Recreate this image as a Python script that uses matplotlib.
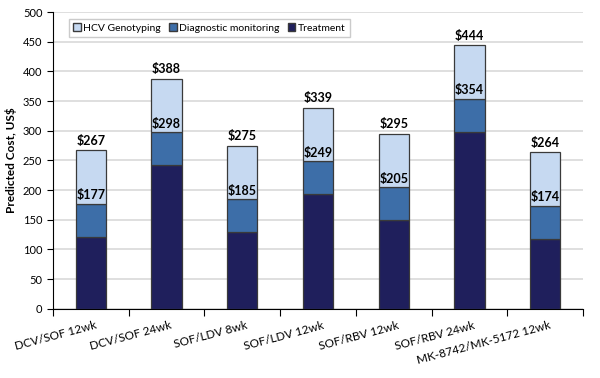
import numpy as np
import matplotlib
matplotlib.use("Agg")
import matplotlib.pyplot as plt
from matplotlib.patches import Patch

plt.rcParams["font.family"] = ["Lato", "DejaVu Sans"]

regimens = [
    "DCV/SOF 12wk", "DCV/SOF 24wk", "SOF/LDV 8wk", "SOF/LDV 12wk",
    "SOF/RBV 12wk", "SOF/RBV 24wk", "MK-8742/MK-5172 12wk",
]
treatment = [121, 242, 129, 193, 149, 298, 118]
diagnostic = [56, 56, 56, 56, 56, 56, 56]
genotyping = [90, 90, 90, 90, 90, 90, 90]

c_treat = "#1f1f5c"
c_diag = "#3d6ea8"
c_geno = "#c6d9f1"
edge = "#3a3a3a"

fig = plt.figure(figsize=(6, 3.78), dpi=100)
ax = fig.add_axes([0.088, 0.183, 0.884, 0.785])

x = np.arange(len(regimens))
w = 0.4
treatment = np.array(treatment)
diagnostic = np.array(diagnostic)
genotyping = np.array(genotyping)
mid = treatment + diagnostic
total = mid + genotyping

ax.bar(x, treatment, w, color=c_treat, edgecolor=edge, linewidth=0.9, zorder=3)
ax.bar(x, diagnostic, w, bottom=treatment, color=c_diag, edgecolor=edge,
       linewidth=0.9, zorder=3)
ax.bar(x, genotyping, w, bottom=mid, color=c_geno, edgecolor=edge,
       linewidth=0.9, zorder=3)

for xi, m, t in zip(x, mid, total):
    ax.text(xi, m + 4, f"${m}", ha="center", va="bottom", fontsize=9,
            fontweight="bold", zorder=4)
    ax.text(xi, t + 6, f"${t}", ha="center", va="bottom", fontsize=9,
            fontweight="bold", zorder=4)

ax.set_xlim(-0.5, len(regimens) - 0.5)
ax.set_ylim(0, 500)
ax.set_yticks(np.arange(0, 501, 50))
ax.tick_params(axis="y", labelsize=8, length=4, direction="out")
ax.set_xticks(np.arange(-0.5, len(regimens), 1.0))
ax.set_xticklabels([])
ax.tick_params(axis="x", length=5, direction="out")
ax.set_xticks(x + 0.05, minor=True)
ax.set_xticklabels(regimens, minor=True, rotation=15, ha="right",
                   rotation_mode="anchor", fontsize=8.5)
ax.tick_params(axis="x", which="minor", length=0, pad=8)

ax.yaxis.grid(True, color="#d9d9d9", linewidth=1.2, zorder=0)
ax.set_axisbelow(True)
ax.spines["top"].set_visible(False)
ax.spines["right"].set_visible(False)
ax.set_ylabel("Predicted Cost, US$", fontsize=8.5, fontweight="bold")

handles = [
    Patch(facecolor=c_geno, edgecolor=edge, label="HCV Genotyping"),
    Patch(facecolor=c_diag, edgecolor=edge, label="Diagnostic monitoring"),
    Patch(facecolor=c_treat, edgecolor=edge, label="Treatment"),
]
ax.legend(handles=handles, loc="upper left", bbox_to_anchor=(0.02, 0.995),
          ncol=3, fontsize=7.5, frameon=True, fancybox=False,
          edgecolor="#bfbfbf", handlelength=0.7, handleheight=0.7,
          handletextpad=0.25, columnspacing=0.8, borderpad=0.45)

fig.savefig("out.png", dpi=100)
